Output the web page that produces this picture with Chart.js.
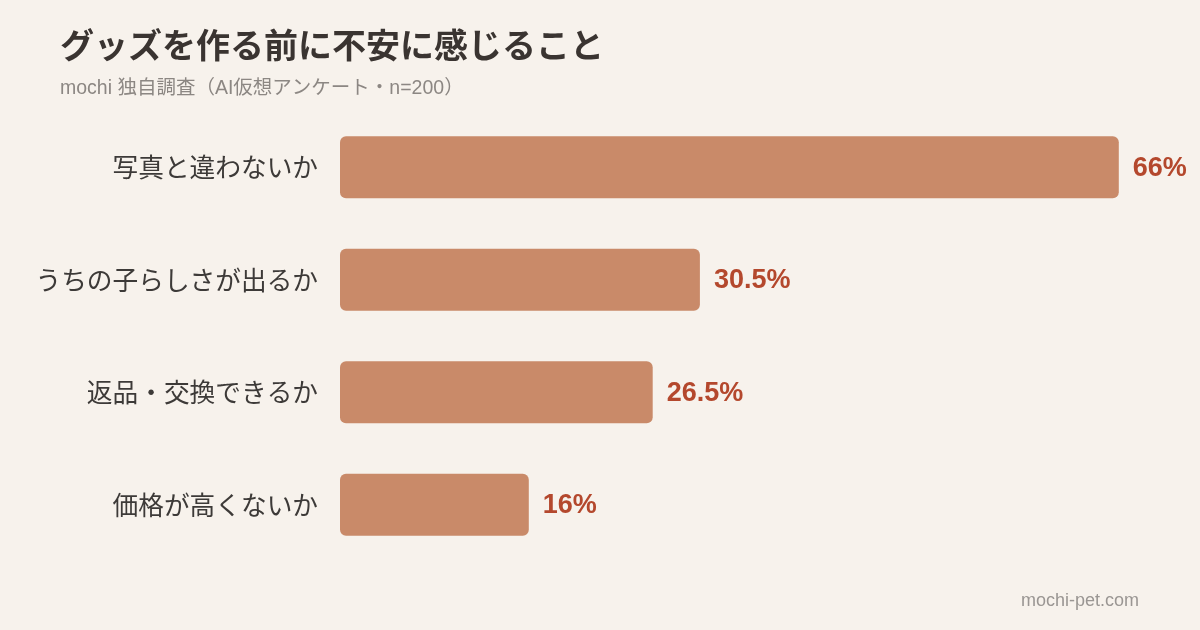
<!DOCTYPE html>
<html lang="ja">
<head>
<meta charset="utf-8">
<script src="https://cdn.jsdelivr.net/npm/chart.js@4"></script>
<style>
  html, body { margin: 0; padding: 0; background: #f7f2ec; }
  #wrap { width: 1200px; height: 630px; position: relative; }
</style>
</head>
<body>
<div id="wrap"><canvas id="chart" width="1200" height="630"></canvas></div>
<script>
"use strict";

const titleText = "グッズを作る前に不安に感じること";
const subtitleText = "mochi 独自調査（AI仮想アンケート・n=200）";
const siteText = "mochi-pet.com";

const categories = ["写真と違わないか", "うちの子らしさが出るか", "返品・交換できるか", "価格が高くないか"];
const values = [66, 30.5, 26.5, 16];
const valueLabels = ["66%", "30.5%", "26.5%", "16%"];

const FONT_LATIN = "'Liberation Sans', Arial, 'Noto Sans CJK JP', sans-serif";

// タイトル・サブタイトル・サイト名
const headerPlugin = {
    id: "header",
    afterDraw(chart) {
        const ctx = chart.ctx;
        ctx.save();
        ctx.textBaseline = "middle";
        ctx.textAlign = "left";
        ctx.fillStyle = "#3a3431";
        ctx.font = "bold 34px 'Noto Sans CJK JP', sans-serif";
        ctx.fillText(titleText, 60, 45);
        ctx.fillStyle = "#8c8783";
        ctx.font = "19.5px " + FONT_LATIN;
        ctx.fillText(subtitleText, 60, 89);
        ctx.textAlign = "right";
        ctx.fillStyle = "#9a9693";
        ctx.font = "18px " + FONT_LATIN;
        ctx.fillText(siteText, 1139, 601);
        ctx.restore();
    }
};

// バーの右側に値を表示
const valueLabelPlugin = {
    id: "valueLabels",
    afterDatasetsDraw(chart) {
        const ctx = chart.ctx;
        const meta = chart.getDatasetMeta(0);
        ctx.save();
        ctx.textBaseline = "middle";
        ctx.textAlign = "left";
        ctx.fillStyle = "#b4482d";
        ctx.font = "bold 27px " + FONT_LATIN;
        meta.data.forEach((bar, i) => {
            ctx.fillText(valueLabels[i], bar.x + 14, bar.y + 1);
        });
        ctx.restore();
    }
};

new Chart(document.getElementById("chart"), {
    type: "bar",
    data: {
        labels: categories,
        datasets: [{
            data: values,
            backgroundColor: "#c98a69",
            borderRadius: 6,
            borderSkipped: false,
            barPercentage: 0.55,
            categoryPercentage: 1
        }]
    },
    options: {
        indexAxis: "y",
        responsive: false,
        animation: false,
        layout: { padding: { top: 111, bottom: 69, left: 0, right: 34 } },
        plugins: {
            legend: { display: false },
            tooltip: { enabled: false }
        },
        scales: {
            x: { display: false, min: 0, max: 70 },
            y: {
                afterFit(scale) { scale.width = 340; },
                grid: { display: false, drawTicks: false },
                border: { display: false },
                ticks: {
                    padding: 22,
                    color: "#3d3a38",
                    font: { size: 25.7, family: "'Noto Sans CJK JP', sans-serif" }
                }
            }
        }
    },
    plugins: [headerPlugin, valueLabelPlugin]
});
</script>
</body>
</html>
